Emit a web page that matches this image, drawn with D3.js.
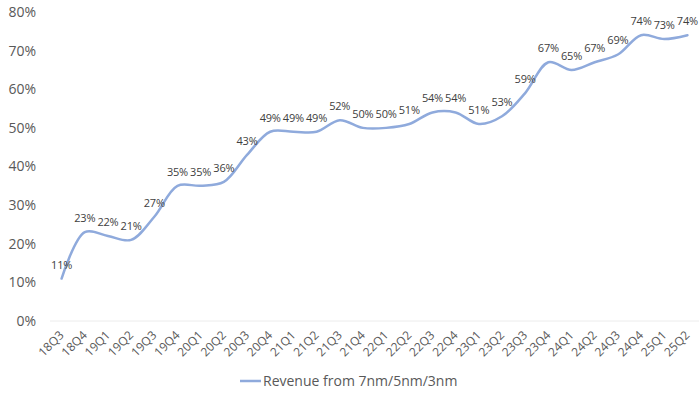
<!DOCTYPE html>
<html>
<head>
<meta charset="utf-8">
<script src="https://cdn.jsdelivr.net/npm/d3@7"></script>
<style>
  body { margin: 0; background: #fff; }
  svg { font-family: "Open Sans", "Noto Sans", sans-serif; }
</style>
</head>
<body>
<div id="chart"></div>
<script>
"use strict"

// quarters on the x axis
const quarters = ["18Q3","18Q4","19Q1","19Q2","19Q3","19Q4","20Q1","20Q2","20Q3","20Q4",
  "21Q1","21Q2","21Q3","21Q4","22Q1","22Q2","22Q3","22Q4","23Q1","23Q2",
  "23Q3","23Q4","24Q1","24Q2","24Q3","24Q4","25Q1","25Q2"];
// share of revenue, percent
const shares = [11,23,22,21,27,35,35,36,43,49,49,49,52,50,50,51,54,54,51,53,59,67,65,67,69,74,73,74];
const yTicks = [0,10,20,30,40,50,60,70,80];
const seriesName = "Revenue from 7nm/5nm/3nm";

let totalWidth = 700, totalHeight = 397;
let margin = {left: 50, right: 1, top: 12, bottom: 76};
let width = totalWidth - margin.left - margin.right;
let height = totalHeight - margin.top - margin.bottom;

let svg = d3.select("#chart").append("svg")
  .attr("width", totalWidth)
  .attr("height", totalHeight);

let g = svg.append("g").attr("transform", `translate(${margin.left},${margin.top})`);

let xScale = d3.scaleBand().domain(quarters).range([0, width]);
let yScale = d3.scaleLinear().domain([0, 80]).range([height, 0]);
let cx = d => xScale(d) + xScale.bandwidth()/2;

// baseline
g.append("line")
  .attr("x1", 0).attr("x2", width)
  .attr("y1", yScale(0)).attr("y2", yScale(0))
  .attr("stroke", "#ececec").attr("stroke-width", 1);

// y axis labels
g.append("g").selectAll("text")
  .data(yTicks)
  .enter().append("text")
    .attr("x", -14)
    .attr("y", d => yScale(d))
    .attr("dy", "0.35em")
    .attr("text-anchor", "end")
    .attr("font-size", 14)
    .attr("fill", "#595959")
    .text(d => d + "%");

// x axis labels, rotated
g.append("g").selectAll("text")
  .data(quarters)
  .enter().append("text")
    .attr("transform", d => `translate(${cx(d) + 3},${height + 15}) rotate(-45)`)
    .attr("text-anchor", "end")
    .attr("font-size", 12)
    .attr("fill", "#595959")
    .text(d => d);

let points = quarters.map((q, i) => ({q: q, v: shares[i]}));

let line = d3.line()
  .x(d => cx(d.q))
  .y(d => yScale(d.v))
  .curve(d3.curveCatmullRom.alpha(0.5));

g.append("path")
  .datum(points)
  .attr("d", line)
  .attr("fill", "none")
  .attr("stroke", "#8faadc")
  .attr("stroke-width", 2.5)
  .attr("stroke-linecap", "round");

// data labels
g.append("g").selectAll("text")
  .data(points)
  .enter().append("text")
    .attr("x", d => cx(d.q))
    .attr("y", d => yScale(d.v) - 10)
    .attr("text-anchor", "middle")
    .attr("font-size", 11)
    .attr("letter-spacing", -0.2)
    .attr("fill", "#404040")
    .text(d => d.v + "%");

// legend
let legend = svg.append("g").attr("transform", "translate(240,381)");
legend.append("line")
  .attr("x1", 0).attr("x2", 21)
  .attr("stroke", "#8faadc").attr("stroke-width", 2.5);
legend.append("text")
  .attr("x", 23)
  .attr("dy", "0.35em")
  .attr("font-size", 14)
  .attr("fill", "#595959")
  .text(seriesName);
</script>
</body>
</html>
